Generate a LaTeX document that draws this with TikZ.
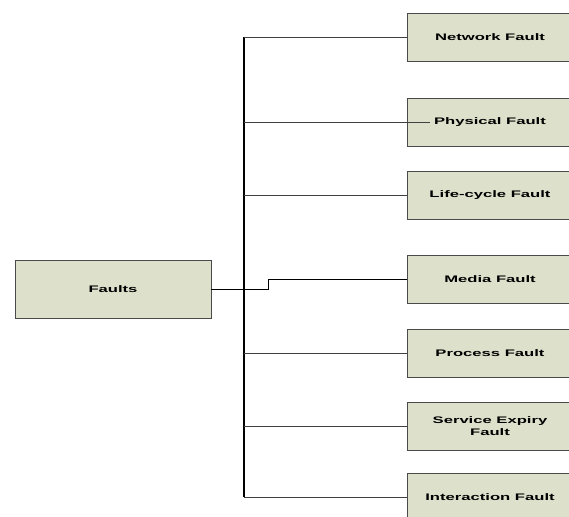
\documentclass[tikz,border=0pt]{standalone}
\usepackage{fontspec}
\setmainfont{Liberation Sans}
\definecolor{boxfill}{HTML}{DDE0CB}
\definecolor{boxline}{HTML}{4A4A4A}
\newcommand{\wide}[1]{\scalebox{1.75}[1]{#1}}
\tikzstyle{faultbox} = [draw=boxline, fill=boxfill, minimum width=166pt, minimum height=48pt, align=center, font=\fontsize{9.5}{11.5}\selectfont\bfseries]
\tikzstyle{branch} = [draw=black!75, line width=0.8pt]

\begin{document}
\begin{tikzpicture}[x=1pt,y=-1pt]
	\useasboundingbox (0,0) rectangle (569,516);
	\node[faultbox, minimum width=196pt, minimum height=58pt] (faults) at (113,289) {\wide{Faults}};
	\node[faultbox] (net) at (490,37) {\wide{Network Fault}};
	\node[faultbox] (phys) at (490,122) {\wide{Physical Fault}};
	\node[faultbox] (life) at (490,195) {\wide{Life-cycle Fault}};
	\node[faultbox] (media) at (490,279) {\wide{Media Fault}};
	\node[faultbox] (proc) at (490,353) {\wide{Process Fault}};
	\node[faultbox] (serv) at (490,426) {\wide{Service Expiry}\\\wide{Fault}};
	\node[faultbox] (inter) at (490,497) {\wide{Interaction Fault}};
	
	\coordinate (trunk) at (244,0);
	\coordinate (jog) at (268,289);
	
	\draw[line width=1.2pt] (net.west -| trunk) -- (inter.west -| trunk);
	\draw[branch] (net.west -| trunk) -- (net.west);
	\draw[branch] (phys.west -| trunk) -- ([xshift=23pt]phys.west);
	\draw[branch] (life.west -| trunk) -- (life.west);
	\draw[branch] (proc.west -| trunk) -- (proc.west);
	\draw[branch] (serv.west -| trunk) -- (serv.west);
	\draw[branch] (inter.west -| trunk) -- (inter.west);
	\draw[branch, draw=black] (faults.east) -- (jog) |- (media.west);
\end{tikzpicture}
\end{document}
